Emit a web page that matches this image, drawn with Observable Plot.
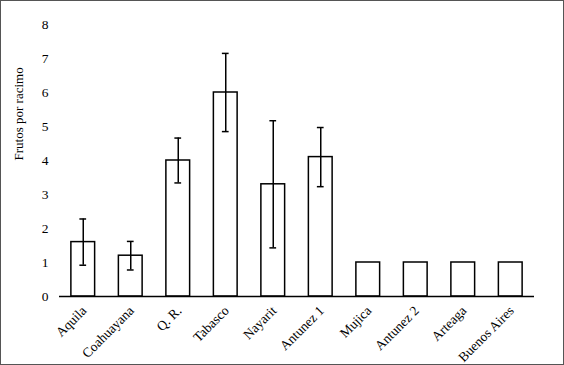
<!DOCTYPE html>
<html>
<head>
<meta charset="utf-8">
<script src="https://cdn.jsdelivr.net/npm/d3@7"></script>
<script src="https://cdn.jsdelivr.net/npm/@observablehq/plot@0.6"></script>
<style>
  html, body { margin: 0; padding: 0; background: #fff; }
  #chart svg { display: block; outline: 1px solid #555; outline-offset: -1px; }
</style>
</head>
<body>
<div id="chart"></div>
<script>
const sites = ["Aquila", "Coahuayana", "Q. R.", "Tabasco", "Nayarit", "Antunez 1", "Mujica", "Antunez 2", "Arteaga", "Buenos Aires"];
const means = [1.6, 1.2, 4.0, 6.0, 3.3, 4.1, 1.0, 1.0, 1.0, 1.0];
const errors = [0.68, 0.42, 0.66, 1.15, 1.87, 0.87, null, null, null, null];
const yTicks = [0, 1, 2, 3, 4, 5, 6, 7, 8];

const data = sites.map((s, i) => ({site: s, mean: means[i], err: errors[i]}));
const errData = data.filter(d => d.err != null).map(d => ({site: d.site, lo: d.mean - d.err, hi: d.mean + d.err}));

const plot = Plot.plot({
  width: 564,
  height: 365,
  marginLeft: 59,
  marginRight: 30,
  marginTop: 24,
  marginBottom: 69,
  style: {fontFamily: "'Liberation Serif', 'Times New Roman', serif", fontSize: "13px", color: "#000", background: "#fff"},
  x: {domain: sites, paddingInner: 0.5, paddingOuter: 0.25, round: false, label: null, axis: null},
  y: {domain: [0, 8], label: null},
  marks: [
    Plot.barY(data, {x: "site", y: "mean", fill: "white", stroke: "black", strokeWidth: 1.5}),
    Plot.ruleX(errData, {x: "site", y1: "lo", y2: "hi", stroke: "black", strokeWidth: 1.5}),
    Plot.tickY(errData, {x: "site", y: "lo", stroke: "black", strokeWidth: 1.5, insetLeft: 8.5, insetRight: 8.5}),
    Plot.tickY(errData, {x: "site", y: "hi", stroke: "black", strokeWidth: 1.5, insetLeft: 8.5, insetRight: 8.5}),
    Plot.axisY({ticks: yTicks, tickSize: 0, tickPadding: 11, fontSize: 13.5, fontFamily: "Liberation Serif", label: null}),
    Plot.text(sites, {x: d => d, frameAnchor: "bottom", dy: 12, dx: 1, rotate: -45, textAnchor: "end", lineAnchor: "middle", fontSize: 13.5, fontFamily: "Liberation Serif", fill: "black"}),
    Plot.ruleX([0], {frameAnchor: "left", stroke: "black", strokeWidth: 1.5}),
    Plot.ruleY([0], {stroke: "black", strokeWidth: 1.5}),
    Plot.text(["Frutos por racimo"], {frameAnchor: "left", dx: -41, rotate: -90, fontSize: 13, fontFamily: "Liberation Serif", fill: "black"})
  ]
});
document.getElementById("chart").appendChild(plot);
</script>
</body>
</html>
